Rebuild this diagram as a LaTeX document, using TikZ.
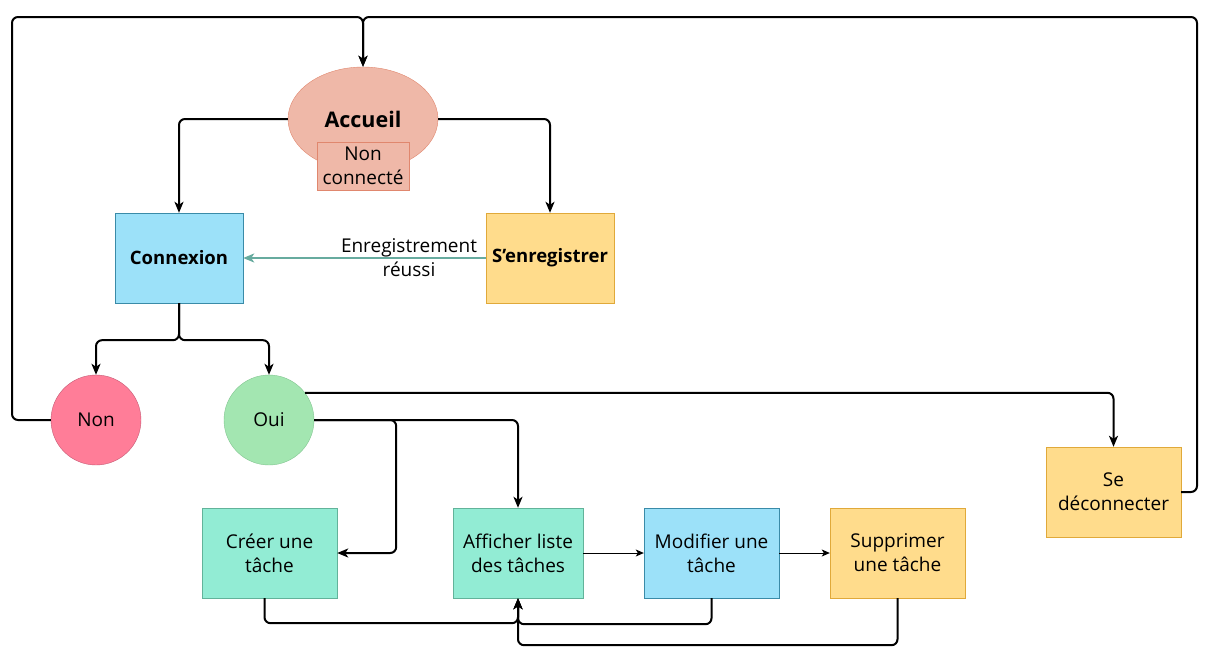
\documentclass[tikz,border=0pt]{standalone}
\usepackage{fontspec}
\setmainfont{Open Sans}
\usetikzlibrary{arrows.meta,shapes.geometric,positioning}

\definecolor{salmonfill}{HTML}{EFB8A8}
\definecolor{salmonline}{HTML}{E0876E}
\definecolor{bluefill}{HTML}{9CE1F9}
\definecolor{blueline}{HTML}{3A8BA8}
\definecolor{yellowfill}{HTML}{FFDC8C}
\definecolor{yellowline}{HTML}{E0A93A}
\definecolor{tealfill}{HTML}{92ECD4}
\definecolor{tealline}{HTML}{62B39A}
\definecolor{pinkfill}{HTML}{FF7D98}
\definecolor{pinkline}{HTML}{C55A74}
\definecolor{greenfill}{HTML}{A3E6B1}
\definecolor{greenline}{HTML}{82C490}
\definecolor{okarrow}{HTML}{67AB9F}

\begin{document}
\begin{tikzpicture}[x=1pt,y=-1pt,
    every node/.style={font=\fontsize{19}{24}\selectfont,align=center,inner sep=0pt},
    bold/.style={font=\fontsize{18.5}{24}\selectfont\bfseries},
    box/.style={rectangle,draw,minimum width=135pt,minimum height=90pt},
    smallbox/.style={box,minimum width=128pt},
    rond/.style={circle,draw,minimum size=90pt},
    flow/.style={line width=2pt,rounded corners=6pt,-{Stealth[length=11pt,width=9pt,inset=3pt]}},
    thin flow/.style={line width=1pt,-{Stealth[length=8pt,width=7pt,inset=2pt]}}]
    \useasboundingbox (0,0) rectangle (1212,667);

    % Home page
    \node[ellipse,draw=salmonline,fill=salmonfill,minimum width=150pt,minimum height=104pt,
          font=\fontsize{21.5}{24}\selectfont\bfseries] (acc) at (363,119) {Accueil};
    \node[rectangle,draw=salmonline,fill=salmonfill,minimum width=92pt,minimum height=48pt]
          (nc) at (363,166) {Non\\connecté};

    % Login and register
    \node[smallbox,bold,draw=blueline,fill=bluefill] (cnx) at (179,258) {Connexion};
    \node[smallbox,bold,draw=yellowline,fill=yellowfill] (reg) at (550,258) {S'enregistrer};

    % Answers
    \node[rond,draw=pinkline,fill=pinkfill] (non) at (96,420) {Non};
    \node[rond,draw=greenline,fill=greenfill] (oui) at (269,420) {Oui};

    % Task pages
    \node[box,draw=tealline,fill=tealfill] (cre) at (269.5,553) {Créer une\\tâche};
    \node[box,minimum width=130pt,draw=tealline,fill=tealfill] (aff) at (518,553) {Afficher liste\\des tâches};
    \node[box,draw=blueline,fill=bluefill] (mod) at (711.5,553) {Modifier une\\tâche};
    \node[box,draw=yellowline,fill=yellowfill] (sup) at (897.5,553) {Supprimer\\une tâche};
    \node[box,draw=yellowline,fill=yellowfill] (dec) at (1113.5,492) {Se\\déconnecter};

    % Corners of the return loops
    \coordinate (tl) at (12,17);
    \coordinate (tr) at (1197,17);

    % Connectors
    \draw[flow] (acc.west) -| (cnx.north);
    \draw[flow] (acc.east) -| (reg.north);
    \draw[flow,draw=okarrow,line width=2.5pt] (reg.west) -- (cnx.east);
    \node (ok) at (409,258) {Enregistrement\\réussi};
    \draw[flow] (cnx.south) -- ++(0,37) -| (non.north);
    \draw[flow] (cnx.south) -- ++(0,37) -| (oui.north);
    \draw[flow] (non.west) -| (tl) -| (acc.north);
    \draw[flow] (dec.east) -| (tr) -| (acc.north);
    \draw[flow] (oui.37) -| (dec.north);
    \draw[flow] (oui.east) -| (aff.north);
    \draw[flow] (oui.east) -- ++(82,0) |- (cre.east);
    \draw[thin flow] (aff.east) -- (mod.west);
    \draw[thin flow] (mod.east) -- (sup.west);
    \draw[flow] ([xshift=-5pt]cre.south) -- ++(0,25) -| (aff.south);
    \draw[flow] (mod.south) -- ++(0,26) -| (aff.south);
    \draw[flow] (sup.south) -- ++(0,47) -| (aff.south);
\end{tikzpicture}
\end{document}
